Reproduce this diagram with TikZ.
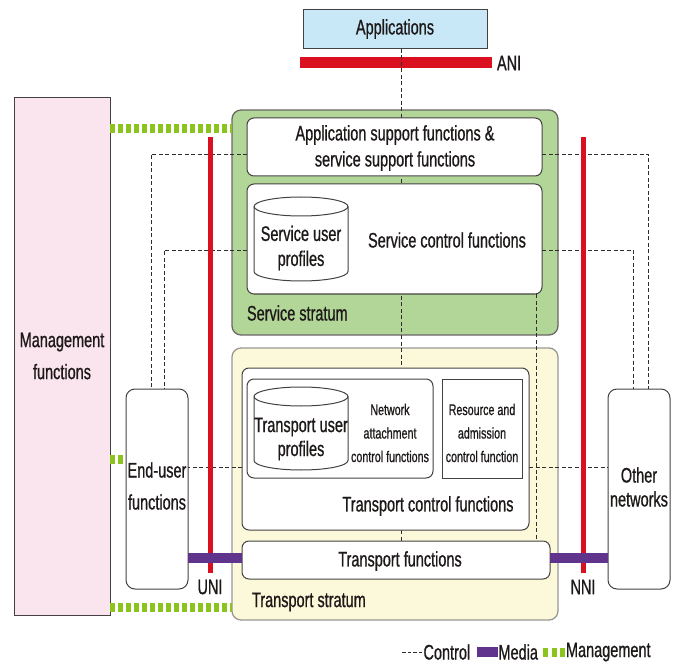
\documentclass[tikz,border=0pt]{standalone}
\usepackage{fontspec}
\setmainfont{Liberation Sans}[FakeStretch=0.69,FakeBold=0.8]
\usetikzlibrary{calc}
\definecolor{txtc}{RGB}{30,25,25}
\definecolor{bordc}{RGB}{70,65,65}
\definecolor{appblue}{RGB}{200,232,248}
\definecolor{anired}{RGB}{218,16,32}
\definecolor{mgmtpink}{RGB}{250,228,238}
\definecolor{ssgreen}{RGB}{178,214,152}
\definecolor{tscream}{RGB}{252,249,218}
\definecolor{mgreen}{RGB}{140,196,30}
\definecolor{mediac}{RGB}{96,52,140}
\definecolor{ctrlc}{RGB}{50,45,45}
\tikzset{
  base/.style={inner sep=0pt, outer sep=0pt, text=txtc},
  big/.style={font=\fontsize{21}{26}\selectfont},
  small/.style={font=\fontsize{15.5}{23.5}\selectfont},
  wbox/.style={base, draw=bordc, line width=1pt, fill=white, rounded corners=7pt, anchor=north west},
  sqbox/.style={base, draw=bordc, line width=1pt, fill=white, anchor=north west},
  stratum/.style={base, draw=bordc!80, line width=1.3pt, rounded corners=9pt, anchor=north west},
  ctrl/.style={draw=ctrlc, line width=0.8pt, dash pattern=on 4pt off 2.5pt},
  mg/.style={draw=mgreen, line width=9pt, dash pattern=on 4.5pt off 3.5pt},
  media/.style={draw=mediac, line width=10pt},
  redbar/.style={base, fill=anired, anchor=north west},
  cylline/.style={draw=bordc, line width=1pt, fill=white},
}
\begin{document}
\begin{tikzpicture}[x=1pt,y=-1pt]
\useasboundingbox (0,0) rectangle (675,663);

% Applications and ANI
\node[sqbox, fill=appblue, minimum width=184pt, minimum height=39pt] (apps) at (303,10) {};
\node[base,big] (appst) at (395,29) {Applications};
\node[redbar, minimum width=192pt, minimum height=11pt] (ani) at (300,57) {};
\node[base,big,anchor=west] (anit) at (497,63) {ANI};

% Management functions
\node[sqbox, fill=mgmtpink, minimum width=96pt, minimum height=517pt] (mgmt) at (14,98) {};
\node[base,big,align=center,font=\fontsize{21}{32}\selectfont] (mgmtt) at (62,356) {Management\\functions};

% Strata
\node[stratum, fill=ssgreen, minimum width=326pt, minimum height=225pt] (ss) at (232,110) {};
\node[stratum, fill=tscream, draw=bordc!55, minimum width=326pt, minimum height=272pt] (ts) at (232,348) {};

% End-user and other networks
\node[wbox, rounded corners=9pt, minimum width=62pt, minimum height=200pt] (eu) at (126,389) {};
\node[wbox, rounded corners=9pt, minimum width=62pt, minimum height=200pt] (on) at (608,389) {};

% Management lines
\coordinate (g1) at ($(mgmt.north east)+(0,30.5)$);
\draw[mg] (g1) -- (g1 -| ss.west);
\coordinate (g2) at ($(ts.south west)+(0,-13)$);
\draw[mg] (g2 -| mgmt.east) -- (g2);
\coordinate (g3) at ($(mgmt.north east)+(0,361)$);
\draw[mg] (g3) -- ++(13,0);

% Central control lines (behind inner boxes)
\node[wbox, minimum width=308pt, minimum height=38pt, draw=none, fill=none] (tf) at (242,541) {};
\coordinate (c7) at ($(apps.south)+(6,0)$);
\draw[ctrl] (c7) -- (c7 |- tf.north);

% Service stratum inner boxes
\node[wbox, minimum width=295pt, minimum height=58pt] (asf) at (247,118) {};
\node[wbox, minimum width=295pt, minimum height=110pt] (scf) at (247,184) {};
\coordinate (c8) at ($(scf.south east)+(-6,0)$);
\draw[ctrl] (c8) -- (c8 |- tf.north);

% Control lines to end-user / other networks
\draw[ctrl] ($(asf.west)+(0,7)$) -| ($(eu.north)+(-6,0)$);
\draw[ctrl] ($(scf.west)+(0,11)$) -| ($(eu.north)+(7,0)$);
\draw[ctrl] ($(asf.east)+(0,7)$) -| ($(on.north)+(9,0)$);
\draw[ctrl] ($(scf.east)+(0,11)$) -| ($(on.north)+(-6,0)$);

\node[base,big,align=center] (asft) at (395,148) {Application support functions \&\\service support functions};

% Service user profiles cylinder
\node[base, minimum width=94pt, minimum height=84pt, anchor=north west] (sup) at (254,197) {};
\draw[cylline] ($(sup.north west)+(0,9.5)$) -- ($(sup.south west)+(0,-9.5)$)
   arc[start angle=180, end angle=360, x radius=47pt, y radius=9.5pt]
   -- ($(sup.north east)+(0,9.5)$)
   arc[start angle=0, end angle=180, x radius=47pt, y radius=9.5pt] -- cycle;
\draw[cylline, fill=none] ($(sup.north west)+(0,9.5)$) arc[start angle=180, end angle=360, x radius=47pt, y radius=9.5pt];
\node[base,big,align=center,font=\fontsize{21}{25}\selectfont] (supt) at (301,248) {Service user\\profiles};
\node[base,big] (scft) at (447,240) {Service control functions};
\node[base,big,anchor=west] (sst) at (247,313) {Service stratum};

% Transport stratum inner boxes
\node[wbox, minimum width=287pt, minimum height=162pt] (tcf) at (242,368) {};
\node[wbox, minimum width=186pt, minimum height=99pt] (nacf) at (247,379) {};
\node[sqbox, minimum width=80pt, minimum height=99pt] (racf) at (442,379) {};
\node[base, minimum width=94pt, minimum height=83pt, anchor=north west] (tup) at (254,387) {};
\draw[cylline] ($(tup.north west)+(0,9.5)$) -- ($(tup.south west)+(0,-9.5)$)
   arc[start angle=180, end angle=360, x radius=47pt, y radius=9.5pt]
   -- ($(tup.north east)+(0,9.5)$)
   arc[start angle=0, end angle=180, x radius=47pt, y radius=9.5pt] -- cycle;
\draw[cylline, fill=none] ($(tup.north west)+(0,9.5)$) arc[start angle=180, end angle=360, x radius=47pt, y radius=9.5pt];
\node[base,align=center,font=\fontsize{21}{24}\selectfont] (tupt) at (301,439) {Transport user\\profiles};
\node[base,small,align=center] (nacft) at (390,433) {Network\\attachment\\control functions};
\node[base,small,align=center] (racft) at (482,433) {Resource and\\admission\\control function};
\node[base,big] (tcft) at (428,506) {Transport control functions};

\node[wbox, minimum width=308pt, minimum height=38pt] (tf2) at (242,541) {};
\node[base,big] (tft) at (400,561) {Transport functions};
\node[base,big,anchor=west] (tst) at (252,602) {Transport stratum};

% Control lines in transport stratum
\coordinate (c5) at ($(tcf.west)+(0,18)$);
\draw[ctrl] (c5) -- (c5 -| eu.east);
\coordinate (c6) at ($(tcf.east)+(0,18)$);
\draw[ctrl] (c6) -- (c6 -| on.west);

% UNI / NNI
\node[redbar, minimum width=5.5pt, minimum height=436pt] (uni) at (207.5,137) {};
\node[redbar, minimum width=5.5pt, minimum height=436pt] (nni) at (580.5,137) {};
\node[base,big] (unit) at (210,587) {UNI};
\node[base,big] (nnit) at (583,587) {NNI};

% Media
\coordinate (m1) at ($(tf.west)+(0,-2)$);
\draw[media] (m1 -| eu.east) -- (m1);
\coordinate (m2) at ($(tf.east)+(0,-2)$);
\draw[media] (m2) -- (m2 -| on.west);

\node[base,big,align=center,font=\fontsize{21}{32}\selectfont] (eut) at (157,486) {End-user\\functions};
\node[base,big,align=center,font=\fontsize{21}{24}\selectfont] (ont) at (639,487) {Other\\networks};

% Legend
\coordinate (lc1) at (402,652);
\coordinate (lc2) at (423,652);
\draw[ctrl, dash pattern=on 3.5pt off 2pt] (lc1) -- (lc2);
\node[base,big,anchor=west] (lct) at (423.5,652) {Control};
\coordinate (lm1) at (477,652);
\coordinate (lm2) at (498,652);
\draw[media] (lm1) -- (lm2);
\node[base,big,anchor=west] (lmt) at (498.5,652) {Media};
\coordinate (lg1) at (543,652);
\coordinate (lg2) at (565,652);
\draw[mg, dash pattern=on 5pt off 3.5pt] (lg1) -- (lg2);
\node[base,big,anchor=west] (lgt) at (566,652) {Management};
\end{tikzpicture}
\end{document}
